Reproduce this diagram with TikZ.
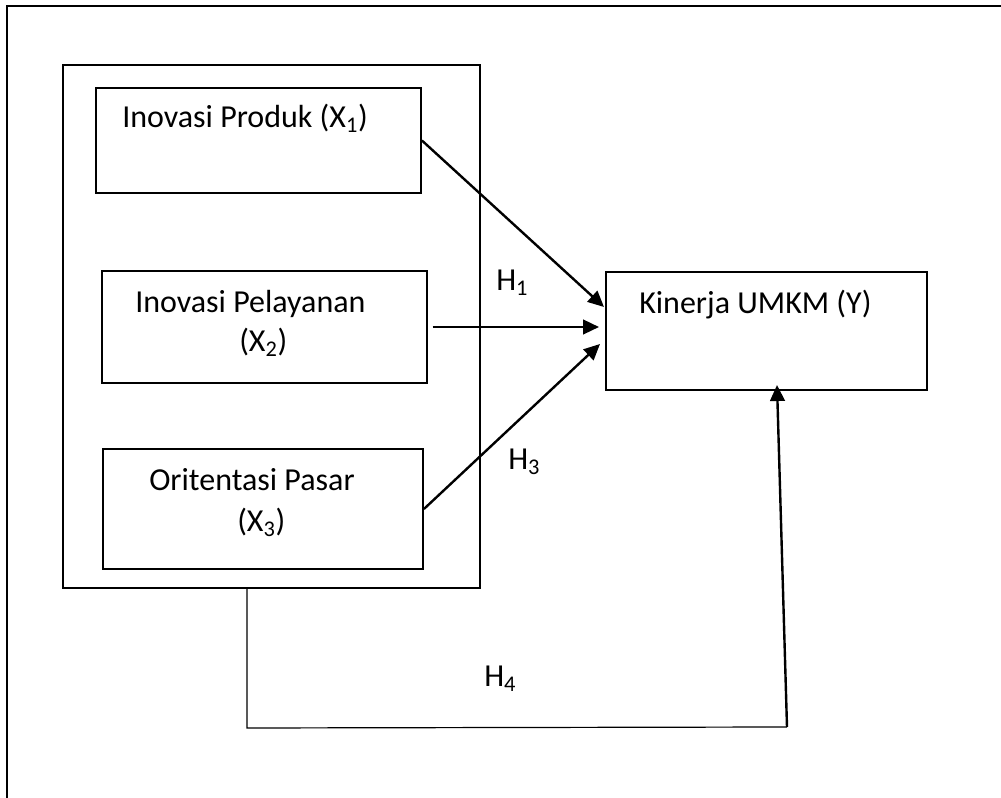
\documentclass[tikz,border=0pt]{standalone}
\usepackage{fontspec}
\setmainfont{Carlito}
\usetikzlibrary{arrows.meta}

\tikzset{
  varbox/.style={draw, line width=1.4pt, inner sep=0pt},
  txt/.style={anchor=base west, inner sep=0pt, font=\fontsize{24}{29}\selectfont},
  hyparrow/.style={line width=1.8pt, -{Triangle[length=12pt,width=11pt]}},
}

\begin{document}
\begin{tikzpicture}[x=0.75pt,y=0.75pt,yscale=-1,xscale=1]
\useasboundingbox (0,0) rectangle (1001,798);

%Outer frame
\draw [line width=2pt] (1005,6) -- (7,6) -- (7,802);

%Group box
\node [varbox, minimum width=312.75pt, minimum height=392.25pt] (grp) at (271.5,326.5) {};
%Variable boxes
\node [varbox, minimum width=243.75pt, minimum height=78.75pt] (x1) at (258.5,140.5) {};
\node [varbox, minimum width=243.75pt, minimum height=84pt] (x2) at (264.5,327) {};
\node [varbox, minimum width=240pt, minimum height=90pt] (x3) at (263,509) {};
\node [varbox, minimum width=240.75pt, minimum height=88.5pt] (ky) at (766.5,331) {};

% Text Node
\node [txt] (tx1) at (122,128) {Inovasi Produk (X\textsubscript{1})};
\node [txt] (tx2a) at (135,313) {Inovasi Pelayanan};
\node [txt] (tx2b) at (239,352) {(X\textsubscript{2})};
\node [txt] (tx3a) at (149,491) {Oritentasi Pasar};
\node [txt] (tx3b) at (237,532) {(X\textsubscript{3})};
\node [txt] (tky) at (639,314) {Kinerja UMKM (Y)};
\node [txt] (th1) at (496,291) {H\textsubscript{1}};
\node [txt] (th3) at (508,470) {H\textsubscript{3}};
\node [txt] (th4) at (484,687) {H\textsubscript{4}};

%Arrow ends
\coordinate (in1) at (604,307);
\coordinate (in2) at (599,327);
\coordinate (in3) at (600,344);
\coordinate (h4left) at (247,728);
\coordinate (h4right) at (787,727);
\coordinate (h4tip) at (777,385);

%Straight Lines
\draw [hyparrow] (x1.east) -- (in1);
\draw [hyparrow, shorten <=3.5pt] (x2.east) -- (in2);
\draw [hyparrow] (x3.east) -- (in3);
\draw [line width=0.9pt] (grp.south -| h4left) -- (h4left) -- (h4right);
\draw [hyparrow] (h4right) -- (h4tip);

\end{tikzpicture}
\end{document}
